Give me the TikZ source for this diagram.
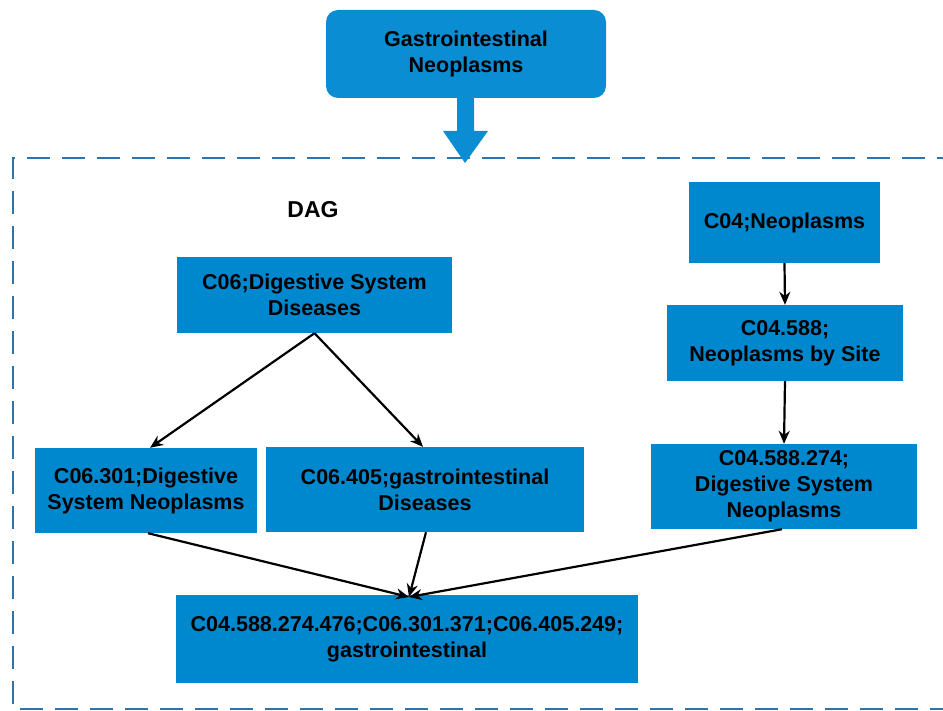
\documentclass[tikz,border=0pt]{standalone}
\usepackage{fontspec}
\setmainfont{Liberation Sans}
\usetikzlibrary{arrows.meta}
\definecolor{boxblue}{HTML}{0088CE}
\definecolor{topblue}{HTML}{0A8DD2}
\definecolor{dashblue}{HTML}{2C74AE}
\tikzset{
  every node/.style={font=\fontsize{21.5}{26}\selectfont\bfseries},
  dagbox/.style={fill=boxblue, draw=none, align=center, inner sep=0pt},
  link/.style={draw=black, line width=2.2pt, -{Stealth[length=13pt,width=11pt]}},
}
\begin{document}
\begin{tikzpicture}[x=1pt,y=-1pt]
\useasboundingbox (0,0) rectangle (943,711);
% dashed frame
\draw[dashblue, line width=2.8pt, dash pattern=on 23pt off 12pt] (960,158) -- (13,158) -- (13,709) -- (960,709);
% top node
\node[dagbox, fill=topblue, rounded corners=12pt, minimum width=280pt, minimum height=88pt] (top) at (466,54) {Gastrointestinal\\Neoplasms};
% block arrow
\fill[topblue] (457,97) -- (474,97) -- (474,131) -- (488,131) -- (465,163) -- (443,131) -- (457,131) -- cycle;
\node[font=\fontsize{23}{27}\selectfont\bfseries] (dag) at (313,210) {DAG};
\node[dagbox, minimum width=275pt, minimum height=76pt] (c06) at (314.5,295) {C06;Digestive System\\Diseases};
\node[dagbox, minimum width=191pt, minimum height=81pt] (c04) at (784.5,222.5) {C04;Neoplasms};
\node[dagbox, minimum width=236pt, minimum height=76pt] (c04588) at (785,343) {C04.588;\\Neoplasms by Site};
\node[dagbox, minimum width=266pt, minimum height=85pt] (c04588274) at (784,486.5) {C04.588.274;\\Digestive System\\Neoplasms};
\node[dagbox, minimum width=222pt, minimum height=85pt] (c06301) at (146,490.5) {C06.301;Digestive\\System Neoplasms};
\node[dagbox, minimum width=318pt, minimum height=85pt] (c06405) at (425,489.5) {C06.405;gastrointestinal\\Diseases};
\node[dagbox, minimum width=462pt, minimum height=88pt] (bot) at (407,639) {C04.588.274.476;C06.301.371;C06.405.249;\\gastrointestinal};
% connectors
\draw[link] (c06.south) -- ([xshift=4pt]c06301.north);
\draw[link] (c06.south) -- ([xshift=-2pt]c06405.north);
\draw[link] (c04.south) -- (c04588.north);
\draw[link] (c04588.south) -- (c04588274.north);
\coordinate (meet) at (409,597);
\draw[link] ([xshift=2pt]c06301.south) -- (meet);
\draw[link] ([xshift=1pt]c06405.south) -- (meet);
\draw[link] ([xshift=-2pt]c04588274.south) -- (meet);
\end{tikzpicture}
\end{document}
